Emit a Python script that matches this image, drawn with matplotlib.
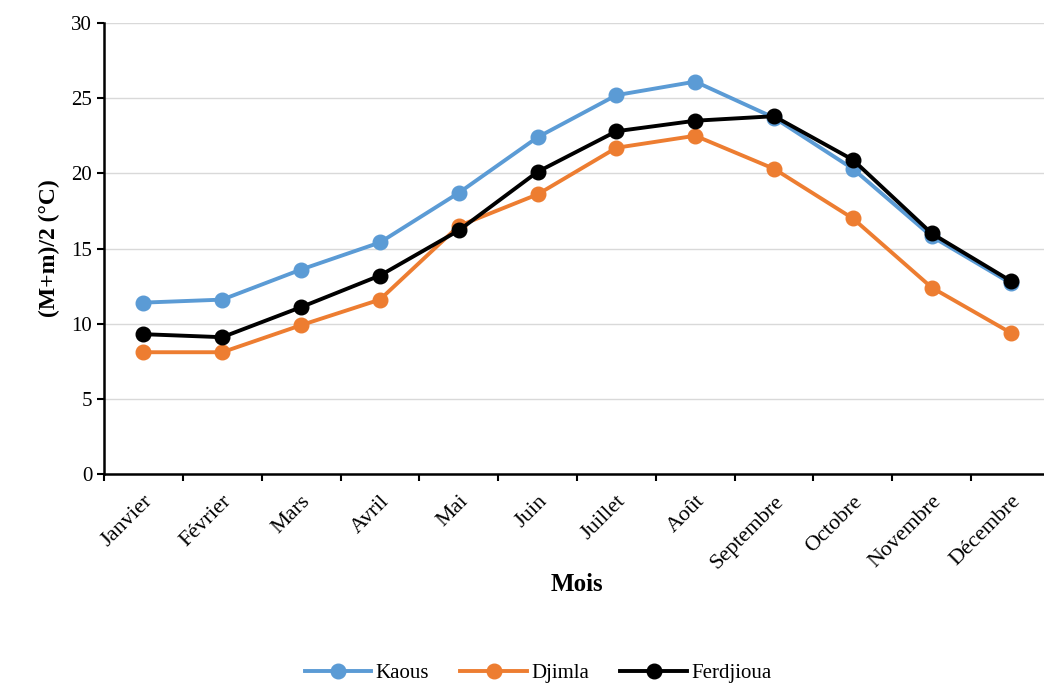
import matplotlib.pyplot as plt
import numpy as np

months = ["Janvier", "Février", "Mars", "Avril", "Mai", "Juin", "Juillet",
          "Août", "Septembre", "Octobre", "Novembre", "Décembre"]
kaous = [11.4, 11.6, 13.6, 15.4, 18.7, 22.4, 25.2, 26.1, 23.7, 20.3, 15.8, 12.7]
djimla = [8.1, 8.1, 9.9, 11.6, 16.5, 18.6, 21.7, 22.5, 20.3, 17.0, 12.4, 9.4]
ferdjioua = [9.3, 9.1, 11.1, 13.2, 16.2, 20.1, 22.8, 23.5, 23.8, 20.9, 16.0, 12.85]

plt.rcParams["font.family"] = "Liberation Serif"

W, H = 1044, 691
fig = plt.figure(figsize=(W / 100, H / 100), dpi=100)
ax = fig.add_axes([104 / W, 1 - 474 / H, (1050 - 104) / W, (474 - 23) / H])

x = np.arange(len(months))
series = [
    ("Kaous", kaous, "#5B9BD5"),
    ("Djimla", djimla, "#ED7D31"),
    ("Ferdjioua", ferdjioua, "#000000"),
]
for name, vals, color in series:
    ax.plot(x, vals, color=color, lw=2.8, marker="o", ms=10.5, label=name)

ax.set_xlim(-0.5, len(months) - 0.5)
ax.set_ylim(0, 30)
ax.set_yticks(range(0, 31, 5))
# ticks sit between categories, labels on the categories
ax.set_xticks(np.arange(-0.5, len(months), 1))
ax.set_xticklabels([])
ax.set_xticks(x, minor=True)
ax.set_xticklabels(months, minor=True, rotation=45, ha="right",
                   rotation_mode="anchor", fontsize=16)
ax.tick_params(axis="x", which="minor", length=0, pad=13)
ax.tick_params(axis="x", which="major", length=5, width=1.5, direction="out")
ax.tick_params(axis="y", length=5, width=1.5, labelsize=15)

ax.grid(axis="y", color="#d9d9d9", lw=1)
ax.set_axisbelow(True)
for side in ("top", "right"):
    ax.spines[side].set_visible(False)
for side in ("left", "bottom"):
    ax.spines[side].set_linewidth(1.8)

ax.set_ylabel("(M+m)/2 (°C)", fontsize=17, fontweight="bold", labelpad=8)
ax.set_xlabel("Mois", fontsize=18, fontweight="bold", labelpad=0)

fig.legend(loc="center", bbox_to_anchor=(538 / W, 1 - 673 / H), ncol=3,
           frameon=False, fontsize=15, handlelength=3.2, columnspacing=1.5,
           handletextpad=0.2)

fig.savefig("out.png", dpi=100)
